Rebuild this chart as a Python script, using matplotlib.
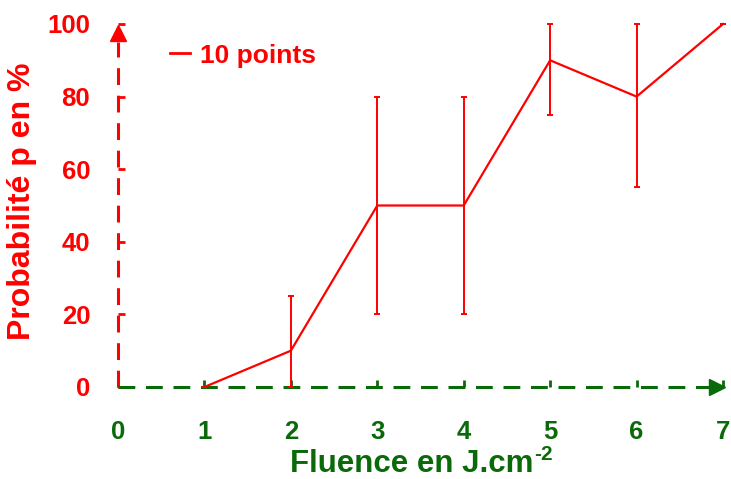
import matplotlib
matplotlib.use('Agg')
import matplotlib.pyplot as plt
from matplotlib.lines import Line2D

# fluence (J.cm-2) vs probability (%)
fluence = [1, 2, 3, 4, 5, 6, 7]
proba = [0, 10, 50, 50, 90, 80, 100]
err_low = [0, 10, 30, 30, 15, 25, 0]
err_high = [0, 15, 30, 30, 10, 20, 0]

xticks = [0, 1, 2, 3, 4, 5, 6, 7]
yticks = [0, 20, 40, 60, 80, 100]

red = '#ff0000'
green = '#0a6a0a'

plt.rcParams['font.family'] = ['Liberation Sans', 'DejaVu Sans']
plt.rcParams['font.weight'] = 'bold'

fig = plt.figure(figsize=(7.31, 4.79), dpi=100)
ax = fig.add_axes([118 / 731, 92 / 479, 605 / 731, 363 / 479])
ax.set_xlim(0, 7)
ax.set_ylim(0, 100)

# dashed axes with arrows
ax.plot([0, 0], [0, 95], color=red, lw=2.2, dashes=(5.5, 3.5), clip_on=False)
ax.plot([0, 6.85], [0, 0], color=green, lw=2.2, dashes=(5.5, 3.5), clip_on=False, zorder=3)
ax.plot([0], [97.5], marker='^', color=red, markersize=12, clip_on=False)
ax.plot([6.93], [0], marker='>', color=green, markersize=12, clip_on=False)

ax.errorbar(fluence, proba, yerr=[err_low, err_high], color=red, lw=1.6,
            elinewidth=1.4, capsize=2, capthick=1.4, clip_on=False, zorder=4)

ax.legend([Line2D([], [], color=red, lw=2)], ['10 points'], loc='center left',
          bbox_to_anchor=(0.086, 0.913), frameon=False, borderpad=0,
          borderaxespad=0, handlelength=0.75, handletextpad=0.4,
          labelcolor=red, prop={'size': 19, 'weight': 'bold'})

for s in ax.spines.values():
    s.set_visible(False)

ax.set_xticks(xticks)
ax.set_yticks(yticks)
ax.tick_params(axis='x', direction='in', length=5, width=2, color=green,
               labelcolor=green, labelsize=18.5, pad=24)
ax.tick_params(axis='y', direction='in', length=5, width=2, color=red,
               labelcolor=red, labelsize=18.5, pad=20)
for lbl in ax.get_xticklabels() + ax.get_yticklabels():
    lbl.set_fontweight('bold')

xl = fig.text(290 / 731, 1 - 464 / 479, 'Fluence en J.cm', color=green,
              fontsize=22.5, fontweight='bold', ha='left', va='center')
ax.annotate('-2', xy=(1, 0.5), xycoords=xl, xytext=(0.5, 0),
            textcoords='offset points', color=green, fontsize=15,
            fontweight='bold', ha='left', va='bottom')
fig.text(22 / 731, 1 - 201 / 479, 'Probabilité p en %', color=red,
         fontsize=23, fontweight='bold', rotation=90, ha='center', va='center')

plt.savefig('out.png', dpi=100)
plt.close(fig)
